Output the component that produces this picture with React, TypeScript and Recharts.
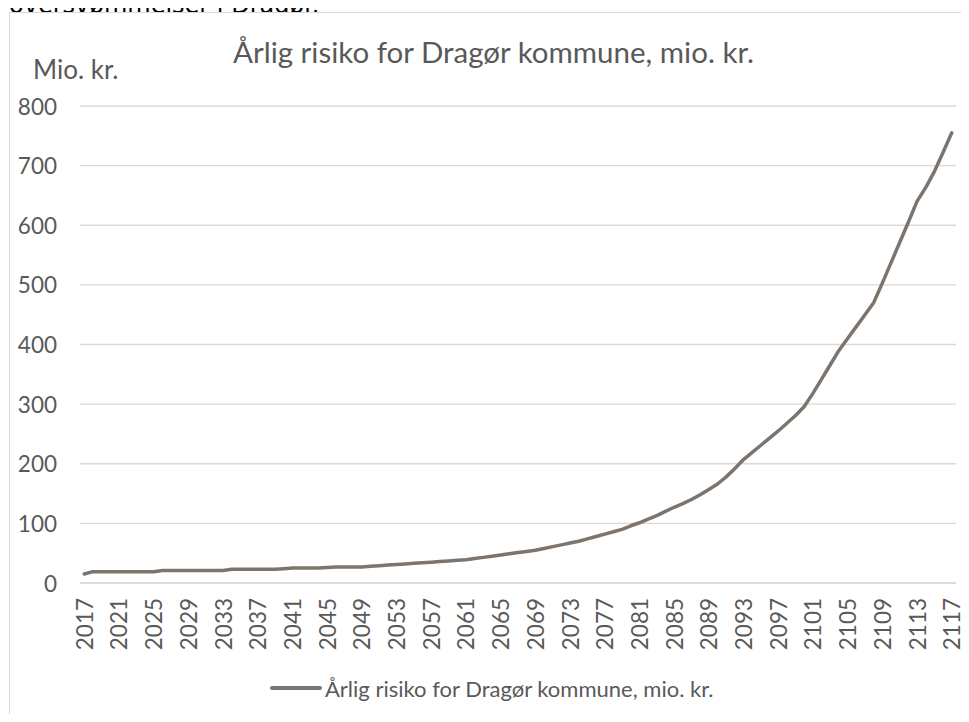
import React from "react";
import { LineChart, Line, XAxis, YAxis, CartesianGrid, Legend } from "recharts";

const years: number[] = [];
for (let y = 2017; y <= 2117; y++) years.push(y);

// Årlig risiko, mio. kr. (one value per year 2017–2117)
const risk = [
  15, 19, 19, 19, 19, 19, 19, 19, 19, 21,
  21, 21, 21, 21, 21, 21, 21, 23, 23, 23,
  23, 23, 23, 24, 25, 25, 25, 25, 26, 27,
  27, 27, 27, 28, 29, 30, 31, 32, 33, 34,
  35, 36, 37, 38, 39, 41, 43, 45, 47, 49,
  51, 53, 55, 58, 61, 64, 67, 70, 74, 78,
  82, 86, 90, 96, 101, 107, 113, 120, 127, 133,
  140, 148, 157, 166, 178, 192, 207, 219, 231, 243,
  255, 268, 281, 296, 318, 342, 366, 390, 410, 430,
  450, 470, 503, 537, 571, 605, 640, 663, 690, 722,
  755,
];

const yTicks = [0, 100, 200, 300, 400, 500, 600, 700, 800];

const seriesName = "Årlig risiko for Dragør kommune, mio. kr.";
const chartTitle = "Årlig risiko for Dragør kommune, mio. kr.";
const unitLabel = "Mio. kr.";
const captionAbove = "oversvømmelser i Dragør.";

const data = years.map((year, i) => ({ year: String(year), risk: risk[i] }));

const FONT = "Lato, 'Open Sans', sans-serif";
const TEXT = "#595959";
const LINE = "#7d756d";

function YearTick({ x, y, payload }: any) {
  return (
    <text
      x={x}
      y={y}
      transform={`rotate(-90, ${x}, ${y})`}
      textAnchor="end"
      dominantBaseline="central"
      fontSize={22.5}
      fontFamily={FONT}
      fill={TEXT}
    >
      {payload.value}
    </text>
  );
}

function ValueTick({ x, y, payload }: any) {
  return (
    <text
      x={x}
      y={y}
      textAnchor="end"
      dominantBaseline="central"
      fontSize={22.5}
      fontFamily={FONT}
      fill={TEXT}
    >
      {payload.value}
    </text>
  );
}

function LegendContent() {
  return (
    <div
      style={{
        height: 44,
        display: "flex",
        alignItems: "center",
        justifyContent: "flex-start",
        fontFamily: FONT,
        fontSize: 22,
        color: TEXT,
        paddingLeft: 270,
      }}
    >
      <span
        style={{
          display: "inline-block",
          width: 52,
          height: 4,
          borderRadius: 2,
          background: LINE,
          marginRight: 3,
        }}
      />
      {seriesName}
    </div>
  );
}

export default function App() {
  return (
    <div
      style={{
        position: "relative",
        margin: -8,
        width: 969,
        height: 722,
        overflow: "hidden",
        background: "#fff",
      }}
    >
      <div
        style={{
          position: "absolute",
          left: 9,
          top: -9,
          fontFamily: "'DejaVu Sans', Verdana, sans-serif",
          fontSize: 24,
          lineHeight: "normal",
          color: "#000",
          whiteSpace: "nowrap",
        }}
      >
        {captionAbove}
      </div>
      <div
        style={{
          position: "absolute",
          left: 9,
          top: 12,
          width: 1000,
          height: 800,
          border: "1px solid #d9d9d9",
          boxSizing: "border-box",
          background: "#fff",
        }}
      />
      <div
        style={{
          position: "absolute",
          left: 0,
          top: 34,
          width: 969,
          textAlign: "center",
          fontFamily: FONT,
          fontSize: 29.5,
          color: TEXT,
          paddingLeft: 18,
          boxSizing: "border-box",
          whiteSpace: "nowrap",
        }}
      >
        {chartTitle}
      </div>
      <div
        style={{
          position: "absolute",
          left: 33,
          top: 53,
          fontFamily: FONT,
          fontSize: 26,
          color: TEXT,
        }}
      >
        {unitLabel}
      </div>
      <div style={{ position: "absolute", left: 0, top: 0 }}>
        <LineChart
          width={969}
          height={722}
          data={data}
          margin={{ top: 106, right: 13, bottom: 12, left: 0 }}
        >
          <CartesianGrid vertical={false} stroke="#d9d9d9" strokeWidth={1.3} />
          <XAxis
            dataKey="year"
            interval={3}
            tick={<YearTick />}
            tickLine={false}
            axisLine={{ stroke: "#d9d9d9", strokeWidth: 1.3 }}
            tickMargin={9}
            height={83}
            padding={{ left: 4.3, right: 4.3 }}
          />
          <YAxis
            domain={[0, 800]}
            ticks={yTicks}
            width={80}
            tickLine={false}
            axisLine={false}
            tickMargin={17}
            tick={<ValueTick />}
          />
          <Legend verticalAlign="bottom" content={<LegendContent />} />
          <Line
            type="linear"
            dataKey="risk"
            name={seriesName}
            stroke={LINE}
            strokeWidth={3.5}
            strokeLinejoin="round"
            strokeLinecap="round"
            dot={false}
            isAnimationActive={false}
          />
        </LineChart>
      </div>
    </div>
  );
}
